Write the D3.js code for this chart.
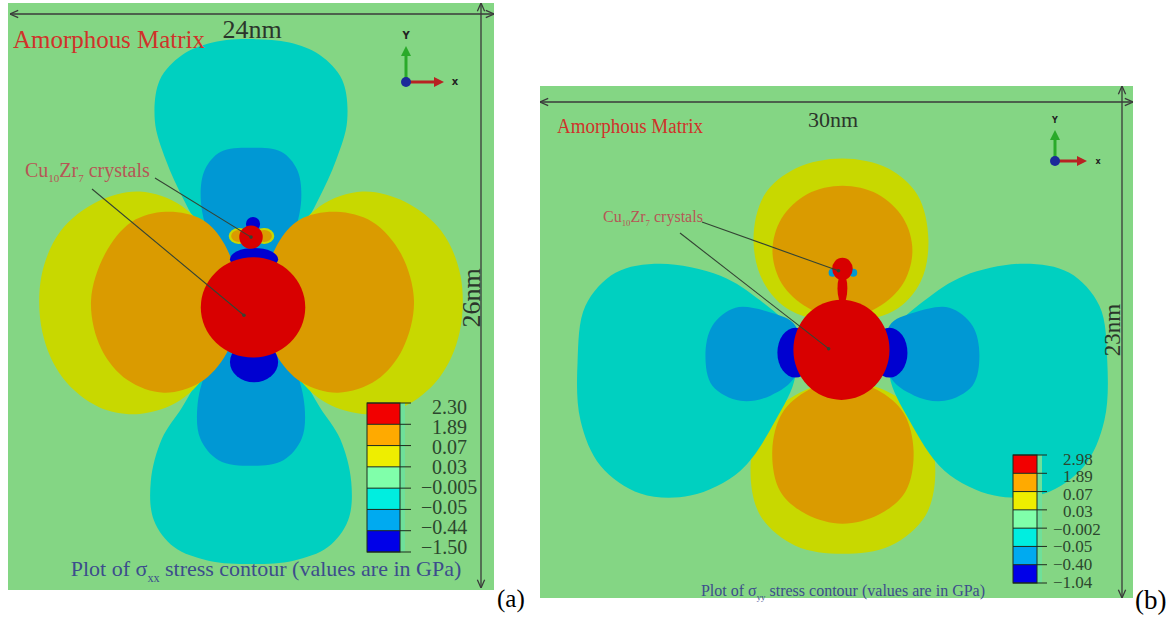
<!DOCTYPE html>
<html>
<head>
<meta charset="utf-8">
<script src="https://cdn.jsdelivr.net/npm/d3@7"></script>
<style>
  body { margin: 0; background: #fff; }
  svg { display: block; }
  text { font-family: "Liberation Serif", "Times New Roman", serif; }
</style>
</head>
<body>
<svg id="fig" width="1172" height="618"></svg>
<script>
// contour bands, top to bottom of the legend
const bandNames = ['red', 'orange', 'yellow', 'mint', 'cyan', 'sky', 'blue'];
const legendColors = ['#f20000', '#ffaa00', '#eeee00', '#80ffaa', '#00eee0', '#00aaf0', '#0000e8'];
const fieldColors = ['#d80000', '#da9b00', '#c8d800', '#84d684', '#00d0c0', '#0098d4', '#0000d0'];

const levelsA = ['2.30', '1.89', '0.07', '0.03', '\u22120.005', '\u22120.05', '\u22120.44', '\u22121.50'];
const levelsB = ['2.98', '1.89', '0.07', '0.03', '\u22120.002', '\u22120.05', '\u22120.40', '\u22121.04'];

// panel (a) sigma_xx, outlines in nm, offsets from the large crystal centre
const aTopCyan = [[0,0.6],[1.24,1.9],[2.48,3.24],[3.32,4.58],[4.21,6.36],[4.75,8.1],[4.5,9.9],[3.4,11.0],[1.9,11.55],[0,11.7],[-1.9,11.55],[-3.4,11.0],[-4.5,9.9],[-4.75,8.1],[-4.21,6.36],[-3.32,4.58],[-2.48,3.24],[-1.24,1.9]];
const aBottomCyan = [[0,-0.6],[1.24,-1.9],[2.48,-3.24],[3.4,-4.6],[4.4,-6.0],[4.95,-7.9],[4.8,-9.6],[3.8,-10.8],[2.1,-11.4],[0,-11.55],[-2.1,-11.4],[-3.8,-10.8],[-4.8,-9.6],[-4.95,-7.9],[-4.4,-6.0],[-3.4,-4.6],[-2.48,-3.24],[-1.24,-1.9]];
const aTopSky = [[0,6.89],[1.49,6.71],[2.28,5.91],[2.48,4.58],[2.08,3.02],[1.24,1.82],[0,0.8],[-1.24,1.82],[-2.08,3.02],[-2.48,4.58],[-2.28,5.91],[-1.49,6.71]];
const aBottomSky = [[0,-0.8],[1.3,-1.9],[2.2,-3.0],[2.65,-4.6],[2.5,-6.0],[1.6,-6.95],[0,-7.2],[-1.6,-6.95],[-2.5,-6.0],[-2.65,-4.6],[-2.2,-3.0],[-1.3,-1.9]];
const aLeftYellow = [[-0.9,0.1],[-1.9,2.7],[-3.4,4.3],[-5.5,4.95],[-7.6,4.5],[-9.4,3.2],[-10.35,1.2],[-10.3,-1.3],[-9.3,-3.3],[-7.5,-4.6],[-5.5,-4.9],[-3.5,-4.3],[-1.9,-2.7]];
const aRightYellow = [[0.9,0.1],[1.9,2.7],[3.4,4.3],[5.5,4.95],[7.6,4.5],[9.4,3.2],[10.35,1.2],[10.3,-1.3],[9.3,-3.3],[7.5,-4.6],[5.5,-4.9],[3.5,-4.3],[1.9,-2.7]];
const aLeftOrange = [[-0.5,0.13],[-1.3,2.6],[-2.4,3.7],[-4.2,4.05],[-5.9,3.6],[-7.2,2.2],[-7.9,0.1],[-7.4,-2.0],[-6.1,-3.4],[-4.3,-3.96],[-2.5,-3.5],[-1.2,-2.2]];
const aRightOrange = [[0.5,0.13],[1.3,2.6],[2.4,3.7],[4.2,4.05],[6.0,3.6],[7.4,2.2],[8.05,0.1],[7.5,-2.0],[6.2,-3.4],[4.3,-3.96],[2.5,-3.5],[1.2,-2.2]];
// ellipses: [cx, cy, rx, ry] in nm
const aBlueTop = [0.15, 1.95, 1.19, 0.5];
const aBlueBottom = [0.15, -2.6, 1.19, 0.9];
const aRedMain = [0.1, -0.18, 2.58, 2.22];
const aBlueCap = [0.1, 3.51, 0.35, 0.31];
const aYellowFlankL = [-0.6, 2.98, 0.5, 0.35];
const aYellowFlankR = [0.65, 2.98, 0.5, 0.35];
const aOrangeFlankL = [-0.6, 2.98, 0.38, 0.27];
const aOrangeFlankR = [0.65, 2.98, 0.38, 0.27];
const aRedSmall = [0, 2.93, 0.58, 0.52];

// panel (b) sigma_yy
const bTopYellow = [[0,8.54],[2.3,8.1],[3.8,6.9],[4.35,4.9],[3.95,3.0],[2.6,1.7],[0,1.2],[-2.6,1.7],[-4.0,3.0],[-4.5,4.9],[-3.95,6.9],[-2.35,8.1]];
const bTopOrange = [[0,7.32],[1.77,6.95],[3.07,5.87],[3.54,4.4],[3.07,2.93],[1.77,1.85],[0,1.35],[-1.77,1.85],[-3.07,2.93],[-3.54,4.4],[-3.07,5.87],[-1.77,6.95]];
const bBottomYellow = [[0,-9.21],[2.43,-8.85],[4.2,-7.5],[4.7,-5.48],[4.2,-3.46],[2.68,-2.11],[0,-1.44],[-2.43,-2.11],[-4.15,-3.46],[-4.65,-5.48],[-4.15,-7.5],[-2.38,-8.85]];
const bBottomOrange = [[0,-7.86],[1.85,-7.45],[3.2,-6.4],[3.6,-4.6],[3.1,-2.9],[1.75,-1.85],[0,-1.44],[-1.7,-1.85],[-3.05,-2.9],[-3.55,-4.6],[-3.15,-6.4],[-1.8,-7.45]];
const bLeftCyan = [[-2.63,0.81],[-4.15,2.16],[-6.17,3.28],[-9.21,3.82],[-11.48,3.41],[-13.0,1.93],[-13.4,-0.6],[-13.25,-3.23],[-12.24,-5.26],[-10.22,-6.51],[-7.69,-6.6],[-5.16,-5.48],[-3.39,-3.23],[-2.38,-1.21]];
const bRightCyan = [[2.63,0.81],[4.15,2.16],[6.17,3.28],[9.21,3.82],[11.48,3.41],[13.0,1.93],[13.4,-0.6],[13.25,-3.23],[12.24,-5.26],[10.22,-6.51],[7.69,-6.6],[5.16,-5.48],[3.39,-3.23],[2.38,-1.21]];
const bLeftSky = [[-2.38,1.03],[-3.64,1.62],[-5.41,1.84],[-6.58,1.03],[-6.93,-0.31],[-6.58,-1.66],[-5.16,-2.34],[-3.64,-2.11],[-2.38,-1.21]];
const bRightSky = [[2.38,1.03],[3.64,1.62],[5.41,1.84],[6.58,1.03],[6.93,-0.31],[6.58,-1.66],[5.16,-2.34],[3.64,-2.11],[2.38,-1.21]];
const bBlueL = [-2.38, -0.18, 0.91, 1.12];
const bBlueR = [2.38, -0.18, 0.91, 1.12];
const bRedMain = [-0.05, -0.05, 2.43, 2.25];
const bNeck = [0, 2.7, 0.25, 0.7];
const bRedSmall = [0, 3.59, 0.52, 0.5];
const bFlankL = [-0.5, 3.41, 0.2, 0.18];
const bFlankR = [0.55, 3.41, 0.2, 0.18];

const panelA = {
  left: 8, right: 494, top: 3, bottom: 590,
  xDomain: [-12.0, 12.0], yDomain: [-12.7, 13.3],
  regions: [
    {band: 4, pts: aTopCyan}, {band: 4, pts: aBottomCyan},
    {band: 5, pts: aTopSky}, {band: 5, pts: aBottomSky},
    {band: 2, pts: aLeftYellow}, {band: 2, pts: aRightYellow},
    {band: 1, pts: aLeftOrange}, {band: 1, pts: aRightOrange},
    {band: 6, ell: aBlueTop}, {band: 6, ell: aBlueBottom},
    {band: 0, ell: aRedMain},
    {band: 6, ell: aBlueCap},
    {band: 2, ell: aYellowFlankL}, {band: 2, ell: aYellowFlankR},
    {band: 1, ell: aOrangeFlankL}, {band: 1, ell: aOrangeFlankR},
    {band: 0, ell: aRedSmall}
  ],
  levels: levelsA,
  legend: {x: 367, w: 33, top: 403, bottom: 552, labelTop: 407, labelBottom: 547, tick: 11, labelX: 432, minusW: 11, font: 20},
  matrix: {x: 13, y: 48, size: 25, len: 192},
  width: {text: '24nm', x: 252, y: 38, size: 26},
  height: {text: '26nm', x: 480, y: 298, size: 26},
  hArrow: {y: 14, x1: 10, x2: 494}, vArrow: {x: 481, y1: 3, y2: 588},
  triad: {x: 406, y: 82, up: 36, right: 38, size: 10},
  crystals: {x: 25, y: 177, size: 20, from1: [155, 178], to1: [0, 2.93], from2: [92, 189], to2: [-0.35, -0.53]},
  caption: {x: 266, y: 576, size: 22, sub: 'xx'},
  tag: {text: '(a)', x: 497, y: 607, size: 25}
};

const panelB = {
  left: 540, right: 1133, top: 86, bottom: 598,
  xDomain: [-15.3, 14.7], yDomain: [-11.2, 11.8],
  regions: [
    {band: 2, pts: bTopYellow}, {band: 2, pts: bBottomYellow},
    {band: 1, pts: bTopOrange}, {band: 1, pts: bBottomOrange},
    {band: 4, pts: bLeftCyan}, {band: 4, pts: bRightCyan},
    {band: 5, pts: bLeftSky}, {band: 5, pts: bRightSky},
    {band: 6, ell: bBlueL}, {band: 6, ell: bBlueR},
    {band: 0, ell: bRedMain}, {band: 0, ell: bNeck},
    {band: 5, ell: bFlankL}, {band: 5, ell: bFlankR},
    {band: 0, ell: bRedSmall}
  ],
  levels: levelsB,
  legend: {x: 1013, w: 24, top: 455, bottom: 583, labelTop: 459, labelBottom: 582, tick: 10, labelX: 1063, minusW: 10, font: 17},
  matrix: {x: 557, y: 133, size: 20, len: 146},
  width: {text: '30nm', x: 833, y: 127, size: 22},
  height: {text: '23nm', x: 1120, y: 330, size: 23},
  hArrow: {y: 102, x1: 540, x2: 1133}, vArrow: {x: 1122, y1: 86, y2: 598},
  triad: {x: 1055, y: 161, up: 31, right: 32, size: 8},
  crystals: {x: 603, y: 222, size: 16, from1: [702, 222], to1: [-0.2, 3.5], from2: [680, 233], to2: [-0.7, 0]},
  caption: {x: 843, y: 596, size: 16, sub: 'yy'},
  tag: {text: '(b)', x: 1135, y: 609, size: 27}
};

const svg = d3.select('#fig');
const defs = svg.append('defs');
defs.append('marker')
  .attr('id', 'chev')
  .attr('viewBox', '0 0 10 10')
  .attr('refX', 10).attr('refY', 5)
  .attr('markerWidth', 7).attr('markerHeight', 7)
  .attr('orient', 'auto-start-reverse')
  .append('path')
  .attr('d', 'M1,1 L10,5 L1,9')
  .attr('fill', 'none')
  .attr('stroke', '#3a3a3a')
  .attr('stroke-width', 1.4);

function drawPanel(p) {
  const g = svg.append('g');
  const x = d3.scaleLinear().domain(p.xDomain).range([p.left, p.right]);
  const y = d3.scaleLinear().domain(p.yDomain).range([p.bottom, p.top]);

  g.append('rect')
    .attr('x', p.left).attr('y', p.top)
    .attr('width', p.right - p.left).attr('height', p.bottom - p.top)
    .attr('fill', fieldColors[3]);

  const outline = d3.line()
    .x(d => x(d[0]))
    .y(d => y(d[1]))
    .curve(d3.curveCatmullRomClosed.alpha(0.5));

  p.regions.forEach(r => {
    if (r.pts) {
      g.append('path').attr('d', outline(r.pts)).attr('fill', fieldColors[r.band]);
    } else {
      const e = r.ell;
      g.append('ellipse')
        .attr('cx', x(e[0])).attr('cy', y(e[1]))
        .attr('rx', x(e[2]) - x(0)).attr('ry', y(0) - y(e[3]))
        .attr('fill', fieldColors[r.band]);
    }
  });

  // legend
  const L = p.legend;
  const ly = d3.scaleLinear().domain([0, bandNames.length]).range([L.top, L.bottom]);
  const labelY = d3.scaleLinear().domain([0, p.levels.length - 1]).range([L.labelTop, L.labelBottom]);
  g.append('rect')
    .attr('x', L.x + L.w).attr('y', L.top)
    .attr('width', 5).attr('height', L.bottom - L.top)
    .attr('fill', '#6fe09a');
  g.selectAll('rect.band')
    .data(bandNames)
    .enter()
    .append('rect')
    .attr('class', 'band')
    .attr('x', L.x)
    .attr('y', (d, i) => ly(i))
    .attr('width', L.w)
    .attr('height', (d, i) => ly(i + 1) - ly(i))
    .attr('fill', (d, i) => legendColors[i]);
  g.append('rect')
    .attr('x', L.x).attr('y', L.top)
    .attr('width', L.w).attr('height', L.bottom - L.top)
    .attr('fill', 'none').attr('stroke', '#1d2a1d').attr('stroke-width', 1);
  g.selectAll('line.tick')
    .data(p.levels)
    .enter()
    .append('line')
    .attr('x1', L.x).attr('x2', L.x + L.w + L.tick)
    .attr('y1', (d, i) => ly(i)).attr('y2', (d, i) => ly(i))
    .attr('stroke', '#1d2a1d').attr('stroke-width', 1);
  g.selectAll('text.level')
    .data(p.levels)
    .enter()
    .append('text')
    .attr('x', d => d.startsWith('\u2212') ? L.labelX - L.minusW : L.labelX)
    .attr('y', (d, i) => labelY(i))
    .attr('dy', '0.33em')
    .style('font-size', L.font + 'px')
    .attr('fill', '#2c472e')
    .text(d => d);

  // dimension arrows
  g.append('line')
    .attr('x1', p.hArrow.x1).attr('x2', p.hArrow.x2)
    .attr('y1', p.hArrow.y).attr('y2', p.hArrow.y)
    .attr('stroke', '#3a3a3a').attr('stroke-width', 1.3)
    .attr('marker-start', 'url(#chev)').attr('marker-end', 'url(#chev)');
  g.append('line')
    .attr('x1', p.vArrow.x).attr('x2', p.vArrow.x)
    .attr('y1', p.vArrow.y1).attr('y2', p.vArrow.y2)
    .attr('stroke', '#3a3a3a').attr('stroke-width', 1.3)
    .attr('marker-start', 'url(#chev)').attr('marker-end', 'url(#chev)');

  g.append('text')
    .attr('x', p.width.x).attr('y', p.width.y)
    .attr('text-anchor', 'middle')
    .style('font-size', p.width.size + 'px')
    .attr('fill', '#2b352b')
    .text(p.width.text);
  g.append('text')
    .attr('transform', `translate(${p.height.x},${p.height.y}) rotate(-90)`)
    .attr('text-anchor', 'middle')
    .style('font-size', p.height.size + 'px')
    .attr('fill', '#2b352b')
    .text(p.height.text);

  g.append('text')
    .attr('x', p.matrix.x).attr('y', p.matrix.y)
    .attr('textLength', p.matrix.len).attr('lengthAdjust', 'spacingAndGlyphs')
    .style('font-size', p.matrix.size + 'px')
    .attr('fill', '#d0322a')
    .text('Amorphous Matrix');

  // coordinate triad
  const t = p.triad;
  g.append('line')
    .attr('x1', t.x).attr('y1', t.y).attr('x2', t.x).attr('y2', t.y - t.up + 9)
    .attr('stroke', '#2aaa2a').attr('stroke-width', 3);
  g.append('path')
    .attr('d', `M${t.x - 5},${t.y - t.up + 10}L${t.x},${t.y - t.up}L${t.x + 5},${t.y - t.up + 10}Z`)
    .attr('fill', '#2aaa2a');
  g.append('line')
    .attr('x1', t.x).attr('y1', t.y).attr('x2', t.x + t.right - 9).attr('y2', t.y)
    .attr('stroke', '#b82222').attr('stroke-width', 3);
  g.append('path')
    .attr('d', `M${t.x + t.right - 10},${t.y - 5}L${t.x + t.right},${t.y}L${t.x + t.right - 10},${t.y + 5}Z`)
    .attr('fill', '#b82222');
  g.append('circle')
    .attr('cx', t.x).attr('cy', t.y).attr('r', 5)
    .attr('fill', '#1c2a9a');
  g.append('text')
    .attr('x', t.x).attr('y', t.y - t.up - 7)
    .attr('text-anchor', 'middle')
    .style('font-size', t.size + 'px').style('font-weight', 'bold')
    .style('font-family', 'DejaVu Sans, sans-serif')
    .attr('fill', '#222').text('Y');
  g.append('text')
    .attr('x', t.x + t.right + 11).attr('y', t.y + 3)
    .attr('text-anchor', 'middle')
    .style('font-size', t.size + 'px').style('font-weight', 'bold')
    .style('font-family', 'DejaVu Sans, sans-serif')
    .attr('fill', '#222').text('x');

  // crystal callout
  const c = p.crystals;
  [[c.from1, c.to1], [c.from2, c.to2]].forEach(seg => {
    g.append('line')
      .attr('x1', seg[0][0]).attr('y1', seg[0][1])
      .attr('x2', x(seg[1][0])).attr('y2', y(seg[1][1]))
      .attr('stroke', '#344434').attr('stroke-width', 1.1);
    g.append('circle')
      .attr('cx', x(seg[1][0])).attr('cy', y(seg[1][1])).attr('r', 1.8)
      .attr('fill', '#344434');
  });
  const ct = g.append('text')
    .attr('x', c.x).attr('y', c.y)
    .style('font-size', c.size + 'px')
    .attr('fill', '#b65656');
  ct.append('tspan').text('Cu');
  ct.append('tspan').attr('dy', c.size * 0.25).style('font-size', (c.size * 0.55) + 'px').text('10');
  ct.append('tspan').attr('dy', -c.size * 0.25).text('Zr');
  ct.append('tspan').attr('dy', c.size * 0.25).style('font-size', (c.size * 0.55) + 'px').text('7');
  ct.append('tspan').attr('dy', -c.size * 0.25).text(' crystals');

  // caption
  const cap = g.append('text')
    .attr('x', p.caption.x).attr('y', p.caption.y)
    .attr('text-anchor', 'middle')
    .style('font-size', p.caption.size + 'px')
    .attr('fill', '#3c4d8c');
  cap.append('tspan').text('Plot of \u03c3');
  cap.append('tspan').attr('dy', p.caption.size * 0.25).style('font-size', (p.caption.size * 0.55) + 'px').text(p.caption.sub);
  cap.append('tspan').attr('dy', -p.caption.size * 0.25).text(' stress contour (values are in GPa)');

  svg.append('text')
    .attr('x', p.tag.x).attr('y', p.tag.y)
    .style('font-size', p.tag.size + 'px')
    .attr('fill', '#000')
    .text(p.tag.text);
}

drawPanel(panelA);
drawPanel(panelB);
</script>
</body>
</html>
